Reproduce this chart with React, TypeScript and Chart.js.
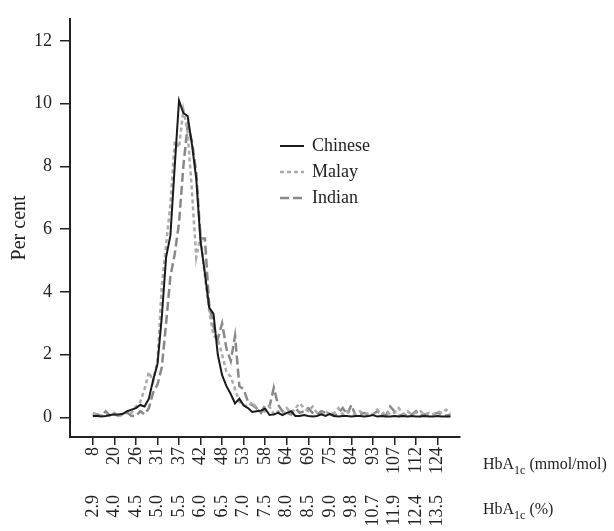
import React, { useEffect, useRef } from 'react';
import { Chart, registerables } from 'chart.js';
Chart.register(...registerables);

const mmolTicks = ['8', '20', '26', '31', '37', '42', '48', '53', '58', '64', '69', '75', '84', '93', '107', '112', '124'];
const pctTicks = ['2.9', '4.0', '4.5', '5.0', '5.5', '6.0', '6.5', '7.0', '7.5', '8.0', '8.5', '9.0', '9.8', '10.7', '11.9', '12.4', '13.5'];
const yTicks = [0, 2, 4, 6, 8, 10, 12];
const seriesNames = ['Chinese', 'Malay', 'Indian'];

const chinese = [
  0.05, 0.05, 0.03, 0.05, 0.08, 0.1, 0.1, 0.12, 0.2, 0.25,
  0.3, 0.4, 0.35, 0.6, 1.2, 1.7, 3.2, 5.1, 5.8, 8.0,
  10.1, 9.7, 9.6, 8.7, 7.6, 5.6, 4.6, 3.5, 3.3, 2.0,
  1.35, 1.0, 0.75, 0.45, 0.6, 0.38, 0.3, 0.18, 0.2, 0.22,
  0.28, 0.08, 0.1, 0.15, 0.08, 0.15, 0.2, 0.05, 0.05, 0.08,
  0.05, 0.03, 0.05, 0.1, 0.05, 0.12, 0.05, 0.03, 0.05, 0.05,
  0.03, 0.05, 0.05, 0.03, 0.05, 0.08, 0.03, 0.05, 0.03, 0.03,
  0.05, 0.03, 0.05, 0.03, 0.05, 0.03, 0.03, 0.05, 0.03, 0.03,
  0.05, 0.03, 0.03, 0.03,
];
const malay = [
  0.15, 0.1, 0.05, 0.1, 0.05, 0.15, 0.05, 0.1, 0.2, 0.15,
  0.35, 0.5, 0.9, 1.45, 1.15, 1.8, 4.2, 5.5, 6.8, 8.8,
  8.6, 9.8, 9.1, 7.2, 5.1, 5.8, 4.5, 3.4, 2.6, 2.5,
  2.0, 1.45, 1.3, 0.9, 0.5, 0.4, 0.35, 0.5, 0.3, 0.15,
  0.2, 0.35, 0.1, 0.2, 0.1, 0.3, 0.15, 0.3, 0.45, 0.3,
  0.2, 0.35, 0.15, 0.1, 0.2, 0.1, 0.15, 0.3, 0.1, 0.2,
  0.15, 0.1, 0.2, 0.1, 0.15, 0.1, 0.25, 0.1, 0.2, 0.1,
  0.15, 0.3, 0.1, 0.2, 0.1, 0.15, 0.2, 0.1, 0.15, 0.1,
  0.2, 0.15, 0.25, 0.15,
];
const indian = [
  0.05, 0.1, 0.05, 0.2, 0.05, 0.1, 0.05, 0.1, 0.15, 0.05,
  0.05, 0.2, 0.1, 0.3, 0.8, 1.05, 1.6, 3.0, 4.5, 5.2,
  6.2, 8.0, 9.3, 8.8, 7.8, 5.7, 5.7, 3.6, 2.9, 2.5,
  3.0, 2.2, 1.8, 2.6, 1.0, 0.9, 0.5, 0.4, 0.3, 0.15,
  0.4, 0.35, 0.95, 0.4, 0.2, 0.15, 0.1, 0.3, 0.15, 0.2,
  0.3, 0.15, 0.1, 0.2, 0.15, 0.1, 0.05, 0.15, 0.3, 0.1,
  0.4, 0.05, 0.1, 0.15, 0.05, 0.1, 0.2, 0.1, 0.05, 0.35,
  0.2, 0.05, 0.1, 0.05, 0.1, 0.2, 0.05, 0.1, 0.05, 0.1,
  0.15, 0.1, 0.05, 0.1,
];

const FONT = "'Liberation Serif', 'Times New Roman', serif";
const INK = '#222222';

function drawHb(ctx: CanvasRenderingContext2D, x: number, y: number, rest: string) {
  ctx.font = `16px ${FONT}`;
  ctx.fillText('HbA', x, y);
  let w = ctx.measureText('HbA').width;
  ctx.font = `12px ${FONT}`;
  ctx.fillText('1c', x + w, y + 5);
  w += ctx.measureText('1c').width;
  ctx.font = `16px ${FONT}`;
  ctx.fillText(rest, x + w, y);
}

const extras = {
  id: 'extras',
  afterDraw(chart: any) {
    const ctx: CanvasRenderingContext2D = chart.ctx;
    ctx.save();
    ctx.fillStyle = INK;
    ctx.textAlign = 'left';
    ctx.textBaseline = 'alphabetic';
    drawHb(ctx, 483, 469, ' (mmol/mol)');
    drawHb(ctx, 483, 514, ' (%)');
    const ds = chart.data.datasets;
    ds.forEach((d: any, i: number) => {
      const y = 146 + i * 26;
      ctx.beginPath();
      ctx.strokeStyle = d.borderColor;
      ctx.lineWidth = d.borderWidth;
      ctx.setLineDash(d.borderDash || []);
      ctx.moveTo(280, y);
      ctx.lineTo(304, y);
      ctx.stroke();
      ctx.setLineDash([]);
      ctx.font = `18px ${FONT}`;
      ctx.textBaseline = 'middle';
      ctx.fillStyle = INK;
      ctx.fillText(d.label, 312, y);
    });
    ctx.restore();
  },
};

export default function App() {
  const ref = useRef<HTMLCanvasElement>(null);
  useEffect(() => {
    document.body.style.margin = '0';
    const toPts = (arr: number[]) => arr.map((y, i) => ({ x: i, y }));
    const chart = new Chart(ref.current as HTMLCanvasElement, {
      type: 'line',
      data: {
        datasets: [
          { label: seriesNames[0], data: toPts(chinese), borderColor: '#1a1a1a', borderWidth: 2, pointRadius: 0, tension: 0, fill: false },
          { label: seriesNames[1], data: toPts(malay), borderColor: '#ababab', borderWidth: 2.5, borderDash: [4, 3], pointRadius: 0, tension: 0, fill: false },
          { label: seriesNames[2], data: toPts(indian), borderColor: '#888888', borderWidth: 2.5, borderDash: [9, 4], pointRadius: 0, tension: 0, fill: false },
        ],
      },
      options: {
        animation: false,
        responsive: true,
        maintainAspectRatio: false,
        layout: { padding: { top: 7, right: 154, left: 0, bottom: 0 } },
        plugins: { legend: { display: false }, tooltip: { enabled: false } },
        scales: {
          x: {
            type: 'linear',
            position: 'bottom',
            weight: 1,
            min: -5.3,
            max: 85.2,
            afterBuildTicks: (s: any) => { s.ticks = mmolTicks.map((_, k) => ({ value: k * 5 })); },
            afterFit: (s: any) => { s.height = 45; },
            ticks: {
              autoSkip: false,
              minRotation: 90,
              maxRotation: 90,
              padding: 2,
              color: INK,
              font: { family: FONT, size: 18 },
              callback: (v: any) => mmolTicks[Math.round(Number(v) / 5)],
            },
            grid: { display: true, drawOnChartArea: false, drawTicks: true, tickLength: 8, color: INK, lineWidth: 1.5 },
            border: { display: true, color: INK, width: 2 },
          },
          x2: {
            type: 'linear',
            position: 'bottom',
            weight: 2,
            min: -5.3,
            max: 85.2,
            afterBuildTicks: (s: any) => { s.ticks = pctTicks.map((_, k) => ({ value: k * 5 })); },
            afterFit: (s: any) => { s.height = 49; },
            ticks: {
              autoSkip: false,
              minRotation: 90,
              maxRotation: 90,
              padding: 5,
              color: INK,
              font: { family: FONT, size: 18 },
              callback: (v: any) => pctTicks[Math.round(Number(v) / 5)],
            },
            grid: { display: false },
            border: { display: false },
          },
          y: {
            type: 'linear',
            min: -0.62,
            max: 12.7,
            afterBuildTicks: (s: any) => { s.ticks = yTicks.map((v) => ({ value: v })); },
            afterFit: (s: any) => { s.width = 70; },
            ticks: { padding: 8, color: INK, font: { family: FONT, size: 18 } },
            grid: { display: true, drawOnChartArea: false, drawTicks: true, tickLength: 10, color: INK, lineWidth: 1.5 },
            border: { display: true, color: INK, width: 2 },
            title: { display: true, text: 'Per cent', color: INK, font: { family: FONT, size: 20 }, padding: { top: 8, bottom: 0 } },
          },
        },
      },
      plugins: [extras],
    } as any);
    return () => chart.destroy();
  }, []);
  return (
    <div style={{ position: 'relative', width: 614, height: 531 }}>
      <canvas ref={ref} />
    </div>
  );
}
